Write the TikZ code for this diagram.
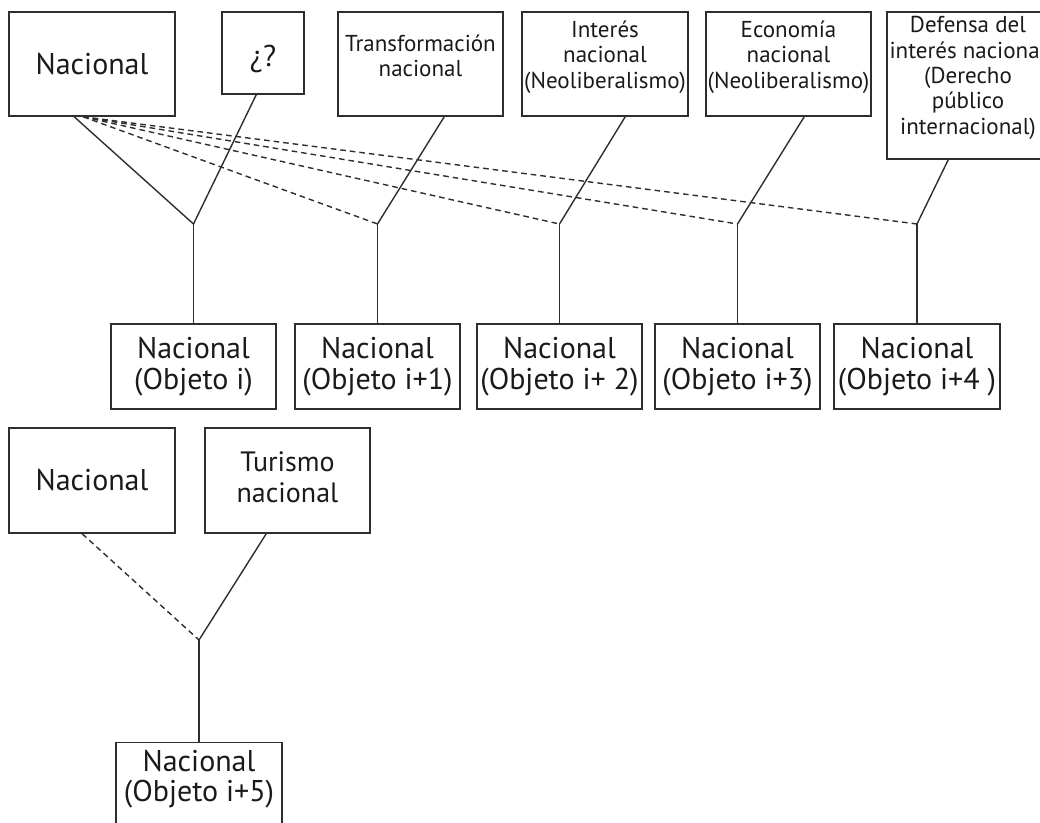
\documentclass[tikz,border=0pt]{standalone}
\usepackage{fontspec}
\setmainfont{PT Sans}
\newcommand\bigtxt{\fontsize{22.5}{23}\selectfont}
\newcommand\midtxt{\fontsize{21}{23.5}\selectfont}
\newcommand\smalltxt{\fontsize{17.25}{19}\selectfont}
\definecolor{linec}{HTML}{2E2E2E}
\definecolor{textc}{HTML}{1A1A1A}
\begin{document}
\begin{tikzpicture}[x=0.75pt,y=-0.75pt,
  box/.style={draw=linec, line width=1.2pt, inner sep=0pt, align=center, text=textc},
  lab/.style={inner sep=0pt, align=center, text=textc},
  conn/.style={draw=linec, line width=1.05pt},
  dconn/.style={draw=linec, line width=1.05pt, dash pattern=on 4.2pt off 3pt}]
\useasboundingbox (0,0) rectangle (1040,823);
\clip (0,0) rectangle (1040,823);

% upper row: source concepts
\node[box, minimum width=124.5pt, minimum height=78pt, font=\bigtxt] (A) at (92,64) {Nacional};
\node[box, minimum width=61.5pt, minimum height=61.5pt] (B) at (263,53) {};
\node[lab, font=\bigtxt] (Bq) at (263,59) {¿?};
\node[box, minimum width=123.75pt, minimum height=78pt] (C) at (420.5,64) {};
\node[lab, font=\smalltxt] (Ct) at (420.5,56) {Transformación\\nacional};
\node[box, minimum width=124.5pt, minimum height=78pt] (D) at (605,64) {};
\node[lab, font=\smalltxt] (Dt) at (605,57) {Interés\\nacional\\(Neoliberalismo)};
\node[box, minimum width=123.75pt, minimum height=78pt] (E) at (788.5,64) {};
\node[lab, font=\smalltxt] (Et) at (788.5,57) {Economía\\nacional\\(Neoliberalismo)};
\node[box, minimum width=123pt, minimum height=110.25pt] (F) at (969,85.5) {};
\node[lab, font=\smalltxt] (Ft) at (968,78) {Defensa del\\interés nacional\\(Derecho\\público\\internacional)};

% upper row: resulting objects
\node[box, minimum width=123.75pt, minimum height=63.75pt, font=\bigtxt] (O1) at (193.5,366.5) {Nacional\\(Objeto i)};
\node[box, minimum width=123.75pt, minimum height=63.75pt, font=\bigtxt] (O2) at (377.5,366.5) {Nacional\\(Objeto i+1)};
\node[box, minimum width=123.75pt, minimum height=63.75pt, font=\bigtxt] (O3) at (559.5,366.5) {Nacional\\(Objeto i+ 2)};
\node[box, minimum width=123.75pt, minimum height=63.75pt, font=\bigtxt] (O4) at (737.5,366.5) {Nacional\\(Objeto i+3)};
\node[box, minimum width=124.5pt, minimum height=63.75pt, font=\bigtxt] (O5) at (917,366.5) {Nacional\\(Objeto i+4 )};

% junction points
\coordinate (rowJ) at (0,224);
\coordinate (J1) at (O1.north |- rowJ);
\coordinate (J2) at (O2.north |- rowJ);
\coordinate (J3) at (O3.north |- rowJ);
\coordinate (J4) at (O4.north |- rowJ);
\coordinate (J5) at (O5.north |- rowJ);

% solid links
\draw[conn] ([xshift=49.5pt]A.south west) -- (J1);
\draw[conn] ([xshift=26.25pt]B.south west) -- (J1);
\draw[conn] ([xshift=80.25pt]C.south west) -- (J2);
\draw[conn] ([xshift=78pt]D.south west) -- (J3);
\draw[conn] ([xshift=74.25pt]E.south west) -- (J4);
\draw[conn] ([xshift=46.5pt]F.south west) -- (J5);
% dashed links from the first concept
\foreach \j in {2,3,4,5}
  \draw[dconn] ([xshift=56.25pt]A.south west) -- (J\j);
% stems to the objects
\foreach \j in {1,2,3,4,5}
  \draw[conn] (J\j) -- (O\j.north);

% lower group
\node[box, minimum width=124.5pt, minimum height=78.75pt, font=\bigtxt] (G) at (92,480.5) {Nacional};
\node[box, minimum width=123.75pt, minimum height=78.75pt] (H) at (287.5,480.5) {};
\node[lab, font=\midtxt] (Ht) at (287.5,477) {Turismo\\nacional};
\node[box, minimum width=124.5pt, minimum height=90pt, anchor=north] (I) at (199,741.5) {};
\node[lab, font=\bigtxt] (It) at (199,779) {Nacional\\(Objeto i+5)};
\coordinate (rowK) at (0,640);
\coordinate (J6) at (I.north |- rowK);
\draw[dconn] ([xshift=55.5pt]G.south west) -- (J6);
\draw[conn] ([xshift=46.5pt]H.south west) -- (J6);
\draw[conn] (J6) -- (I.north);
\end{tikzpicture}
\end{document}
